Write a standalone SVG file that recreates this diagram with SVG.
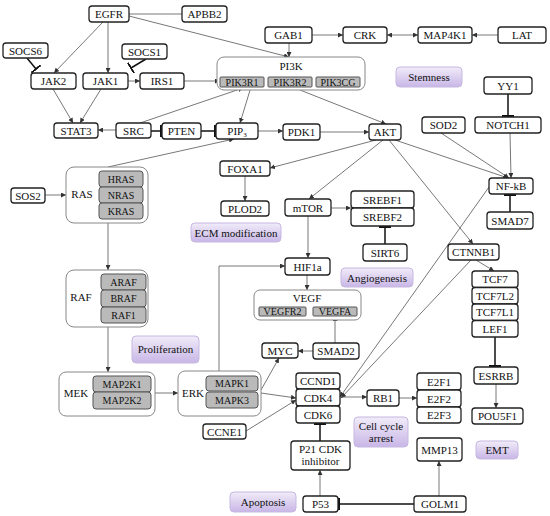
<svg xmlns="http://www.w3.org/2000/svg" width="550" height="516" viewBox="0 0 550 516">
<defs>
<linearGradient id="pg" x1="0" y1="0" x2="0" y2="1">
<stop offset="0" stop-color="#f1ecf9"/>
<stop offset="1" stop-color="#c8b6e6"/>
</linearGradient>
<marker id="ar" viewBox="0 0 6 6" refX="6" refY="3" markerWidth="5" markerHeight="5" markerUnits="userSpaceOnUse" orient="auto-start-reverse">
<path d="M0,0 L6,3 L0,6 z" fill="#333"/>
</marker>
<marker id="tee" viewBox="0 -6 2 12" refX="1" refY="0" markerWidth="2" markerHeight="12" markerUnits="userSpaceOnUse" orient="auto">
<rect x="0" y="-6" width="2" height="12" fill="#111"/>
</marker>
</defs>
<style>
text{font-family:"Liberation Serif","Times New Roman",serif;font-size:11px;fill:#111;text-anchor:middle}
.n{fill:#fff;stroke:#222;stroke-width:1.3}
.g{fill:#bababa;stroke:#555;stroke-width:1}
.c{fill:#fff;stroke:#888;stroke-width:1}
.p{fill:url(#pg);stroke:#c7b8e2;stroke-width:1}
.s{font-size:10px}
.l{fill:none;stroke:#555;stroke-width:0.8;marker-end:url(#ar)}
.ln{fill:none;stroke:#555;stroke-width:0.8}
.t{fill:none;stroke:#111;stroke-width:1.5;marker-end:url(#tee)}
</style>
<rect width="550" height="516" fill="#fff"/>

<g id="connectors">
<line class="ln" x1="129" y1="14" x2="182" y2="14"/>
<line class="l" x1="103" y1="22" x2="54" y2="73"/>
<line class="l" x1="108" y1="22" x2="108" y2="73"/>
<line class="l" x1="129" y1="16" x2="289" y2="57"/>
<line class="l" x1="289" y1="43" x2="289" y2="57"/>
<line class="t" x1="27" y1="58" x2="36" y2="69"/>
<line class="t" x1="146" y1="59" x2="131" y2="68"/>
<line class="l" x1="128" y1="81" x2="140" y2="81"/>
<line class="l" x1="184" y1="81" x2="220" y2="81"/>
<line class="l" x1="53" y1="89" x2="73" y2="123"/>
<line class="l" x1="101" y1="89" x2="80" y2="123"/>
<line class="l" x1="116" y1="130" x2="98" y2="130"/>
<line class="t" x1="151" y1="131" x2="161" y2="131"/>
<line class="t" x1="201" y1="131" x2="215" y2="131"/>
<line class="l" x1="140" y1="123" x2="243" y2="88"/>
<line class="l" x1="251" y1="87" x2="240" y2="123"/>
<line class="l" x1="108" y1="167" x2="234" y2="139"/>
<line class="l" x1="258" y1="131" x2="283" y2="131"/>
<line class="l" x1="320" y1="132" x2="369" y2="132"/>
<line class="l" x1="300" y1="90" x2="386" y2="124"/>
<line class="l" x1="312" y1="35" x2="343" y2="35"/>
<line class="l" x1="387" y1="35" x2="418" y2="35" marker-start="url(#ar)"/>
<line class="l" x1="498" y1="35" x2="472" y2="35"/>
<line class="t" x1="508" y1="94" x2="508" y2="116"/>
<line class="l" x1="510" y1="133" x2="511" y2="178"/>
<line class="l" x1="441" y1="133" x2="509" y2="178"/>
<line class="l" x1="395" y1="140" x2="508" y2="178"/>
<line class="l" x1="376" y1="140" x2="270" y2="168"/>
<line class="l" x1="383" y1="140" x2="309" y2="199"/>
<line class="l" x1="389" y1="140" x2="473" y2="244"/>
<line class="l" x1="245" y1="176" x2="245" y2="201"/>
<line class="l" x1="331" y1="208" x2="351" y2="208"/>
<line class="t" x1="385" y1="244" x2="385" y2="227"/>
<line class="t" x1="510" y1="212" x2="510" y2="195"/>
<line class="l" x1="308" y1="216" x2="308" y2="258"/>
<line class="l" x1="307" y1="275" x2="307" y2="290"/>
<polyline class="l" points="219,371 219,266 285,266"/>
<line class="l" x1="335" y1="343" x2="335" y2="316"/>
<line class="l" x1="313" y1="351" x2="298" y2="351"/>
<line class="l" x1="261" y1="390" x2="279" y2="358"/>
<line class="l" x1="261" y1="393" x2="296" y2="398"/>
<line class="l" x1="246" y1="431" x2="296" y2="400"/>
<line class="l" x1="489" y1="187" x2="340" y2="397"/>
<line class="l" x1="471" y1="260" x2="341" y2="398"/>
<line class="l" x1="476" y1="260" x2="494" y2="271"/>
<line class="t" x1="495" y1="337" x2="495" y2="366"/>
<line class="l" x1="496" y1="384" x2="496" y2="408"/>
<line class="l" x1="340" y1="397" x2="367" y2="397"/>
<line class="l" x1="399" y1="398" x2="417" y2="398"/>
<line class="l" x1="439" y1="496" x2="439" y2="461"/>
<line class="t" x1="414" y1="504" x2="339" y2="504"/>
<line class="l" x1="320" y1="496" x2="320" y2="470"/>
<line class="t" x1="320" y1="441" x2="320" y2="424"/>
<line class="l" x1="45" y1="195" x2="66" y2="195"/>
<line class="l" x1="108" y1="223" x2="108" y2="270"/>
<line class="l" x1="108" y1="327" x2="108" y2="372"/>
<line class="l" x1="155" y1="393" x2="178" y2="393"/>
</g>

<g id="EGFR"><rect class="n" x="89" y="6" width="40" height="16" rx="3"/><text x="109" y="18">EGFR</text></g>
<g id="APBB2"><rect class="n" x="182" y="6" width="45" height="16" rx="3"/><text x="204.5" y="18">APBB2</text></g>
<g id="SOCS6"><rect class="n" x="3" y="43" width="45" height="15" rx="3"/><text x="25.5" y="54.5">SOCS6</text></g>
<g id="SOCS1"><rect class="n" x="122" y="44" width="45" height="15" rx="3"/><text x="144.5" y="55.5">SOCS1</text></g>
<g id="JAK2"><rect class="n" x="31" y="73" width="45" height="16" rx="3"/><text x="53.5" y="85">JAK2</text></g>
<g id="JAK1"><rect class="n" x="83" y="73" width="45" height="16" rx="3"/><text x="105.5" y="85">JAK1</text></g>
<g id="IRS1"><rect class="n" x="140" y="73" width="44" height="16" rx="3"/><text x="162" y="85">IRS1</text></g>
<g id="PI3K"><rect class="c" x="217" y="57" width="148" height="33" rx="7"/><text x="291" y="70">PI3K</text>
<rect class="g" x="220" y="77" width="44" height="10" rx="1"/><text class="s" x="242" y="85.5">PIK3R1</text>
<rect class="g" x="268" y="77" width="44" height="10" rx="1"/><text class="s" x="290" y="85.5">PIK3R2</text>
<rect class="g" x="316" y="77" width="44" height="10" rx="1"/><text class="s" x="338" y="85.5">PIK3CG</text></g>
<g id="STAT3"><rect class="n" x="54" y="123" width="44" height="15" rx="3"/><text x="76" y="134.5">STAT3</text></g>
<g id="SRC"><rect class="n" x="116" y="123" width="35" height="15" rx="3"/><text x="133.5" y="134.5">SRC</text></g>
<g id="PTEN"><rect class="n" x="162" y="123" width="39" height="16" rx="3"/><text x="181.5" y="135">PTEN</text></g>
<g id="PIP3"><rect class="n" x="216" y="123" width="42" height="16" rx="3"/><text x="237" y="135">PIP<tspan font-size="7" dy="2">3</tspan></text></g>
<g id="PDK1"><rect class="n" x="283" y="124" width="37" height="16" rx="3"/><text x="301.5" y="136">PDK1</text></g>
<g id="AKT"><rect class="n" x="369" y="124" width="32" height="16" rx="3"/><text x="385" y="136">AKT</text></g>
<g id="GAB1"><rect class="n" x="265" y="27" width="47" height="16" rx="3"/><text x="288.5" y="39">GAB1</text></g>
<g id="CRK"><rect class="n" x="343" y="27" width="44" height="16" rx="3"/><text x="365" y="39">CRK</text></g>
<g id="MAP4K1"><rect class="n" x="418" y="27" width="54" height="16" rx="3"/><text x="445" y="39">MAP4K1</text></g>
<g id="LAT"><rect class="n" x="498" y="27" width="48" height="16" rx="3"/><text x="522" y="39">LAT</text></g>
<g id="Stemness"><rect class="p" x="396" y="67" width="66" height="20" rx="4"/><text x="429" y="81">Stemness</text></g>
<g id="YY1"><rect class="n" x="484" y="77" width="48" height="17" rx="3"/><text x="508" y="89.5">YY1</text></g>
<g id="NOTCH1"><rect class="n" x="475" y="117" width="66" height="16" rx="3"/><text x="508" y="129">NOTCH1</text></g>
<g id="SOD2"><rect class="n" x="422" y="117" width="43" height="16" rx="3"/><text x="443.5" y="129">SOD2</text></g>
<g id="NF-kB"><rect class="n" x="489" y="178" width="44" height="16" rx="3"/><text x="511" y="190">NF-kB</text></g>
<g id="SMAD7"><rect class="n" x="487" y="212" width="46" height="17" rx="3"/><text x="510" y="224.5">SMAD7</text></g>
<g id="CTNNB1"><rect class="n" x="448" y="244" width="51" height="16" rx="3"/><text x="473.5" y="256">CTNNB1</text></g>
<g id="FOXA1"><rect class="n" x="220" y="161" width="50" height="15" rx="3"/><text x="245" y="172.5">FOXA1</text></g>
<g id="PLOD2"><rect class="n" x="221" y="201" width="48" height="15" rx="3"/><text x="245" y="212.5">PLOD2</text></g>
<g id="ECM"><rect class="p" x="191" y="223" width="90" height="19" rx="4"/><text x="236" y="236.5">ECM modification</text></g>
<g id="mTOR"><rect class="n" x="285" y="199" width="46" height="17" rx="3"/><text x="308" y="211.5">mTOR</text></g>
<g id="SREBF"><rect class="n" x="351" y="191" width="63" height="17" rx="3"/><text x="382.5" y="203.5">SREBF1</text>
<rect class="n" x="351" y="208" width="63" height="18" rx="3"/><text x="382.5" y="221">SREBF2</text></g>
<g id="SIRT6"><rect class="n" x="363" y="244" width="44" height="17" rx="3"/><text x="385" y="256.5">SIRT6</text></g>
<g id="Angiogenesis"><rect class="p" x="341" y="268" width="72" height="19" rx="4"/><text x="377" y="281.5">Angiogenesis</text></g>
<g id="HIF1a"><rect class="n" x="285" y="258" width="45" height="17" rx="3"/><text x="307.5" y="270.5">HIF1a</text></g>
<g id="VEGF"><rect class="c" x="254" y="290" width="107" height="30" rx="6"/><text x="307" y="302">VEGF</text>
<rect class="g" x="259" y="307" width="47" height="9" rx="1"/><text class="s" x="282.5" y="315">VEGFR2</text>
<rect class="g" x="313" y="307" width="44" height="9" rx="1"/><text class="s" x="335" y="315">VEGFA</text></g>
<g id="TCF"><rect class="n" x="472" y="271" width="46" height="16.5" rx="3"/><text x="495" y="283">TCF7</text>
<rect class="n" x="472" y="287.5" width="46" height="16.5" rx="3"/><text x="495" y="299.5">TCF7L2</text>
<rect class="n" x="472" y="304" width="46" height="16.5" rx="3"/><text x="495" y="316">TCF7L1</text>
<rect class="n" x="472" y="320.5" width="46" height="16.5" rx="3"/><text x="495" y="332.5">LEF1</text></g>
<g id="ESRRB"><rect class="n" x="474" y="367" width="44" height="17" rx="3"/><text x="496" y="379.5">ESRRB</text></g>
<g id="POU5F1"><rect class="n" x="472" y="408" width="51" height="16" rx="3"/><text x="497.5" y="420">POU5F1</text></g>
<g id="EMT"><rect class="p" x="476" y="441" width="42" height="18" rx="4"/><text x="497" y="454">EMT</text></g>
<g id="E2F"><rect class="n" x="417" y="373" width="44" height="17" rx="3"/><text x="439" y="385.5">E2F1</text>
<rect class="n" x="417" y="390" width="44" height="17" rx="3"/><text x="439" y="402.5">E2F2</text>
<rect class="n" x="417" y="407" width="44" height="16" rx="3"/><text x="439" y="419">E2F3</text></g>
<g id="RB1"><rect class="n" x="367" y="390" width="32" height="16" rx="3"/><text x="383" y="402">RB1</text></g>
<g id="CDK"><rect class="n" x="296" y="373" width="44" height="16" rx="3"/><text x="318" y="385">CCND1</text>
<rect class="n" x="296" y="389" width="44" height="17" rx="3"/><text x="318" y="401.5">CDK4</text>
<rect class="n" x="296" y="406" width="44" height="17" rx="3"/><text x="318" y="418.5">CDK6</text></g>
<g id="CellCycle"><rect class="p" x="354" y="417" width="54" height="30" rx="4"/><text x="381" y="430">Cell cycle</text><text x="381" y="442">arrest</text></g>
<g id="MMP13"><rect class="n" x="417" y="438" width="45" height="23" rx="3"/><text x="439.5" y="453.5">MMP13</text></g>
<g id="GOLM1"><rect class="n" x="414" y="496" width="52" height="16" rx="3"/><text x="440" y="508">GOLM1</text></g>
<g id="P53"><rect class="n" x="303" y="496" width="35" height="16" rx="3"/><text x="320.5" y="508">P53</text></g>
<g id="P21"><rect class="n" x="291" y="441" width="59" height="29" rx="3"/><text x="320.5" y="453">P21 CDK</text><text x="320.5" y="465">inhibitor</text></g>
<g id="MYC"><rect class="n" x="262" y="343" width="36" height="15" rx="3"/><text x="280" y="354.5">MYC</text></g>
<g id="SMAD2"><rect class="n" x="313" y="343" width="46" height="16" rx="3"/><text x="336" y="355">SMAD2</text></g>
<g id="Apoptosis"><rect class="p" x="230" y="492" width="66" height="20" rx="4"/><text x="263" y="506">Apoptosis</text></g>
<g id="CCNE1"><rect class="n" x="203" y="424" width="43" height="15" rx="3"/><text x="224.5" y="435.5">CCNE1</text></g>
<g id="ERK"><rect class="c" x="178" y="371" width="83" height="45" rx="7"/><text x="193" y="397">ERK</text>
<rect class="g" x="206" y="376" width="52" height="15" rx="3"/><text class="s" x="232" y="387">MAPK1</text>
<rect class="g" x="206" y="392" width="52" height="16" rx="3"/><text class="s" x="232" y="403.5">MAPK3</text></g>
<g id="MEK"><rect class="c" x="59" y="372" width="96" height="44" rx="7"/><text x="76" y="397">MEK</text>
<rect class="g" x="93" y="376" width="58" height="16" rx="3"/><text class="s" x="122" y="387.5">MAP2K1</text>
<rect class="g" x="93" y="392" width="58" height="17" rx="3"/><text class="s" x="122" y="404">MAP2K2</text></g>
<g id="Proliferation"><rect class="p" x="132" y="336" width="67" height="27" rx="4"/><text x="165.5" y="353">Proliferation</text></g>
<g id="RAF"><rect class="c" x="66" y="270" width="82" height="57" rx="8"/><text x="81" y="301">RAF</text>
<rect class="g" x="101" y="274" width="45" height="16" rx="3"/><text class="s" x="123.5" y="285.5">ARAF</text>
<rect class="g" x="101" y="290" width="45" height="17" rx="3"/><text class="s" x="123.5" y="302">BRAF</text>
<rect class="g" x="101" y="307" width="45" height="16" rx="3"/><text class="s" x="123.5" y="318.5">RAF1</text></g>
<g id="RAS"><rect class="c" x="66" y="167" width="82" height="56" rx="8"/><text x="82" y="198">RAS</text>
<rect class="g" x="99" y="171" width="44" height="16" rx="3"/><text class="s" x="121" y="182.5">HRAS</text>
<rect class="g" x="99" y="187" width="44" height="16" rx="3"/><text class="s" x="121" y="198.5">NRAS</text>
<rect class="g" x="99" y="203" width="44" height="16" rx="3"/><text class="s" x="121" y="214.5">KRAS</text></g>
<g id="SOS2"><rect class="n" x="11" y="188" width="34" height="15" rx="3"/><text x="28" y="199.5">SOS2</text></g>
</svg>
